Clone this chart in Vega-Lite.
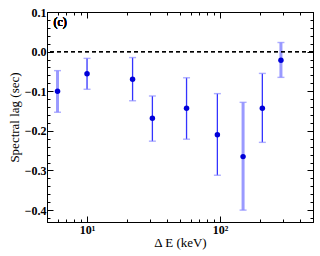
{
  "$schema": "https://vega.github.io/schema/vega-lite/v6.json",
  "autosize": "none",
  "width": 266,
  "height": 210,
  "padding": {"left": 47, "top": 12, "right": 7, "bottom": 34},
  "background": "white",
  "config": {
    "view": {"stroke": "black", "strokeWidth": 1},
    "axis": {
      "domainColor": "black",
      "tickColor": "black",
      "labelColor": "black",
      "titleColor": "black",
      "labelFont": "Liberation Serif",
      "titleFont": "Liberation Serif",
      "labelFontSize": 12,
      "titleFontSize": 13,
      "titleFontWeight": "normal",
      "labelFontWeight": "bold",
      "grid": false
    }
  },
  "data": {
    "values": [
      {"E": 6.0, "lag": -0.100, "lo": -0.153, "hi": -0.048, "set": "b"},
      {"E": 10.0, "lag": -0.056, "lo": -0.095, "hi": -0.017, "set": "a"},
      {"E": 22.0, "lag": -0.070, "lo": -0.124, "hi": -0.015, "set": "a"},
      {"E": 31.0, "lag": -0.168, "lo": -0.226, "hi": -0.112, "set": "a"},
      {"E": 56.0, "lag": -0.143, "lo": -0.221, "hi": -0.066, "set": "a"},
      {"E": 95.5, "lag": -0.210, "lo": -0.312, "hi": -0.106, "set": "a"},
      {"E": 149.0, "lag": -0.265, "lo": -0.400, "hi": -0.128, "set": "b"},
      {"E": 208.0, "lag": -0.143, "lo": -0.229, "hi": -0.055, "set": "a"},
      {"E": 287.0, "lag": -0.022, "lo": -0.065, "hi": 0.023, "set": "b"}
    ]
  },
  "resolve": {"axis": {"x": "independent", "y": "independent"}},
  "layer": [
    {
      "mark": {"type": "rule"},
      "encoding": {
        "x": {
          "field": "E", "type": "quantitative",
          "scale": {"type": "log", "domain": [5, 500], "nice": false},
          "axis": {
            "orient": "bottom",
            "title": "Δ E (keV)",
            "titlePadding": 1,
            "values": [5,6,7,8,9,10,20,30,40,50,60,70,80,90,100,200,300,400,500],
            "labelExpr": "datum.value == 10 ? '10¹' : (datum.value == 100 ? '10²' : '')",
            "tickSize": {"condition": {"test": "datum.value == 10 || datum.value == 100", "value": -6}, "value": -3},
            "labelPadding": 8
          }
        },
        "y": {
          "field": "lo", "type": "quantitative",
          "scale": {"domain": [-0.43, 0.1], "nice": false, "zero": false},
          "axis": {
            "orient": "left",
            "title": "Spectral lag (sec)",
            "titlePadding": 3,
            "values": [-0.42,-0.4,-0.38,-0.36,-0.34,-0.32,-0.3,-0.28,-0.26,-0.24,-0.22,-0.2,-0.18,-0.16,-0.14,-0.12,-0.1,-0.08,-0.06,-0.04,-0.02,0,0.02,0.04,0.06,0.08,0.1],
            "labelExpr": "abs(datum.value*10 - round(datum.value*10)) < 1e-6 ? format(datum.value, '.1f') : ''",
            "tickSize": {"condition": {"test": "abs(datum.value*10 - round(datum.value*10)) < 1e-6", "value": -6}, "value": -3},
            "labelPadding": 7
          }
        },
        "y2": {"field": "hi"},
        "color": {"condition": {"test": "datum.set == 'b'", "value": "#9a9aff"}, "value": "#3333ff"},
        "strokeWidth": {"condition": {"test": "datum.set == 'b'", "value": 3}, "value": 1.3}
      }
    },
    {
      "mark": {"type": "tick", "orient": "horizontal", "size": 7, "thickness": 1.4, "color": "#8a8aff"},
      "encoding": {
        "x": {
          "field": "E", "type": "quantitative",
          "axis": {
            "orient": "top",
            "title": null,
            "labels": false,
            "values": [5,6,7,8,9,10,20,30,40,50,60,70,80,90,100,200,300,400,500],
            "tickSize": {"condition": {"test": "datum.value == 10 || datum.value == 100", "value": -6}, "value": -3}
          }
        },
        "y": {
          "field": "lo", "type": "quantitative",
          "axis": {
            "orient": "right",
            "title": null,
            "labels": false,
            "values": [-0.42,-0.4,-0.38,-0.36,-0.34,-0.32,-0.3,-0.28,-0.26,-0.24,-0.22,-0.2,-0.18,-0.16,-0.14,-0.12,-0.1,-0.08,-0.06,-0.04,-0.02,0,0.02,0.04,0.06,0.08,0.1],
            "tickSize": {"condition": {"test": "abs(datum.value*10 - round(datum.value*10)) < 1e-6", "value": -6}, "value": -3}
          }
        }
      }
    },
    {
      "mark": {"type": "tick", "orient": "horizontal", "size": 7, "thickness": 1.4, "color": "#8a8aff"},
      "encoding": {
        "x": {"field": "E", "type": "quantitative", "axis": null},
        "y": {"field": "hi", "type": "quantitative", "axis": null}
      }
    },
    {
      "mark": {"type": "rule", "strokeDash": [4, 3], "color": "black", "strokeWidth": 1},
      "encoding": {
        "y": {"datum": 0, "type": "quantitative", "axis": null}
      }
    },
    {
      "mark": {"type": "point", "filled": true, "shape": "circle", "size": 30, "color": "#0000d8", "opacity": 1},
      "encoding": {
        "x": {"field": "E", "type": "quantitative", "axis": null},
        "y": {"field": "lag", "type": "quantitative", "axis": null}
      }
    },
    {
      "mark": {"type": "text", "text": "(c)", "font": "Liberation Serif", "fontSize": 12, "fontWeight": "normal", "align": "left", "baseline": "middle", "color": "black"},
      "encoding": {
        "x": {"datum": 5.6, "type": "quantitative", "axis": null},
        "y": {"datum": 0.075, "type": "quantitative", "axis": null}
      }
    }
  ]
}
